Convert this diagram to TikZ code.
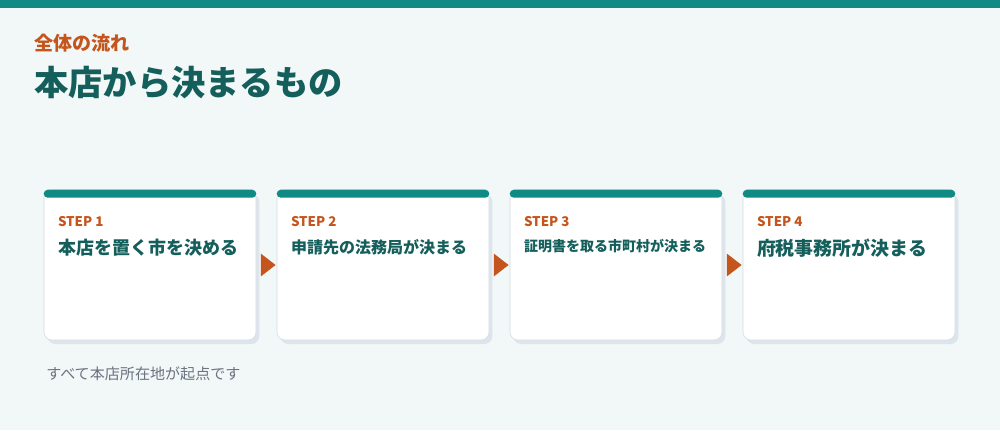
\documentclass[tikz,border=0pt]{standalone}
\usepackage{fontspec}
\setmainfont{Noto Sans CJK JP}
\usetikzlibrary{positioning,shapes.geometric,shadows}

\definecolor{barteal}{HTML}{0F8A85}
\definecolor{deepteal}{HTML}{145E5B}
\definecolor{accent}{HTML}{C4551C}
\definecolor{pagebg}{HTML}{F2F7F7}
\definecolor{cardline}{HTML}{D3DCE3}
\definecolor{cardshadow}{HTML}{DDE4EB}
\definecolor{note}{HTML}{6B7280}

\begin{document}
\begin{tikzpicture}[
  x=0.75pt, y=-0.75pt,
  card/.style={draw=cardline, fill=white, rounded corners=6pt, minimum width=159pt,
    minimum height=112.5pt, inner sep=0pt,
    drop shadow={shadow xshift=2.5pt, shadow yshift=-3pt, fill=cardshadow, opacity=1}},
  steplabel/.style={anchor=west, inner sep=0pt, text=accent, font=\bfseries\fontsize{10}{12}\selectfont},
  steptitle/.style={anchor=west, inner sep=0pt, text=deepteal, font=\bfseries\fontsize{13.5}{16}\selectfont},
  flowtip/.style={isosceles triangle, isosceles triangle stretches, fill=accent,
    minimum width=17pt, minimum height=11pt, inner sep=0pt}
]
\useasboundingbox (0,0) rectangle (1000,430);
\fill[pagebg] (0,0) rectangle (1000,430);
\fill[barteal] (0,0) rectangle (1000,8);

% Heading
\node[anchor=west, inner sep=0pt, text=accent, font=\bfseries\fontsize{14.3}{17}\selectfont] (kicker) at (34,43) {全体の流れ};
\node[anchor=west, inner sep=0pt, text=deepteal, font=\bfseries\fontsize{25.7}{30}\selectfont] (headline) at (34,83) {本店から決まるもの};

% Cards
\node[card] (c1) at (150,265) {};
\node[card] (c2) at (383,265) {};
\node[card] (c3) at (616,265) {};
\node[card] (c4) at (849,265) {};

\fill[barteal, rounded corners=3pt] (c1.north west) rectangle ([yshift=-6pt]c1.north east);
\fill[barteal, rounded corners=3pt] (c2.north west) rectangle ([yshift=-6pt]c2.north east);
\fill[barteal, rounded corners=3pt] (c3.north west) rectangle ([yshift=-6pt]c3.north east);
\fill[barteal, rounded corners=3pt] (c4.north west) rectangle ([yshift=-6pt]c4.north east);

\node[steplabel] (s1) at ([xshift=10.5pt,yshift=-24pt]c1.north west) {STEP 1};
\node[steplabel] (s2) at ([xshift=10.5pt,yshift=-24pt]c2.north west) {STEP 2};
\node[steplabel] (s3) at ([xshift=10.5pt,yshift=-24pt]c3.north west) {STEP 3};
\node[steplabel] (s4) at ([xshift=10.5pt,yshift=-24pt]c4.north west) {STEP 4};

\node[steptitle] (t1) at ([xshift=10.5pt,yshift=-43.5pt]c1.north west) {本店を置く市を決める};
\node[steptitle, font=\bfseries\fontsize{12}{14}\selectfont] (t2) at ([xshift=10.5pt,yshift=-43.5pt]c2.north west) {申請先の法務局が決まる};
\node[steptitle, font=\bfseries\fontsize{10.5}{13}\selectfont] (t3) at ([xshift=10.5pt,yshift=-42pt]c3.north west) {証明書を取る市町村が決まる};
\node[steptitle, font=\bfseries\fontsize{14.2}{17}\selectfont] (t4) at ([xshift=10.5pt,yshift=-44pt]c4.north west) {府税事務所が決まる};

% Flow arrows
\path (c1.east) -- node[flowtip] (a12) {} (c2.west);
\path (c2.east) -- node[flowtip] (a23) {} (c3.west);
\path (c3.east) -- node[flowtip] (a34) {} (c4.west);

% Footer note
\node[anchor=west, inner sep=0pt, text=note, font=\fontsize{11.3}{13}\selectfont] (footnote) at (46,374) {すべて本店所在地が起点です};

\end{tikzpicture}
\end{document}
